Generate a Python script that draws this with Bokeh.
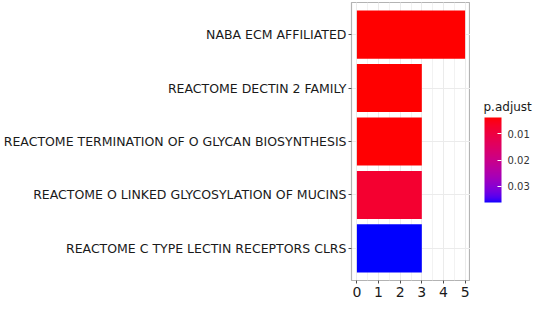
import numpy as np
from bokeh.plotting import figure
from bokeh.layouts import row, column
from bokeh.models import (ColumnDataSource, FactorRange, Range1d, LinearColorMapper,
                          ColorBar, SingleIntervalTicker, FixedTicker, Spacer)
from bokeh.transform import transform
from bokeh.embed import file_html
from bokeh.resources import INLINE

# ---- data ----
terms = ["REACTOME C TYPE LECTIN RECEPTORS CLRS",
         "REACTOME O LINKED GLYCOSYLATION OF MUCINS",
         "REACTOME TERMINATION OF O GLYCAN BIOSYNTHESIS",
         "REACTOME DECTIN 2 FAMILY",
         "NABA ECM AFFILIATED"]
counts = [3, 3, 3, 3, 5]
p_adjust = [0.0362, 0.0078, 0.0040, 0.0039, 0.0038]
cbar_ticks = [0.01, 0.02, 0.03]
x_ticks_interval = 1
legend_title = "p.adjust"

# ---- palette: red -> blue interpolated in CIELAB (like ggplot) ----
def srgb_to_lab(rgb):
    c = np.array(rgb, float) / 255.0
    c = np.where(c > 0.04045, ((c + 0.055) / 1.055) ** 2.4, c / 12.92)
    M = np.array([[0.4124, 0.3576, 0.1805], [0.2126, 0.7152, 0.0722], [0.0193, 0.1192, 0.9505]])
    xyz = M @ c / np.array([0.95047, 1.0, 1.08883])
    f = np.where(xyz > 0.008856, np.cbrt(xyz), 7.787 * xyz + 16 / 116)
    return np.array([116 * f[1] - 16, 500 * (f[0] - f[1]), 200 * (f[1] - f[2])])

def lab_to_hex(lab):
    L, a, b = lab
    fy = (L + 16) / 116
    fx = fy + a / 500
    fz = fy - b / 200
    f = np.array([fx, fy, fz])
    xyz = np.where(f ** 3 > 0.008856, f ** 3, (f - 16 / 116) / 7.787) * np.array([0.95047, 1.0, 1.08883])
    Mi = np.array([[3.2406, -1.5372, -0.4986], [-0.9689, 1.8758, 0.0415], [0.0557, -0.2040, 1.0570]])
    c = Mi @ xyz
    c = np.where(c > 0.0031308, 1.055 * np.clip(c, 0, None) ** (1 / 2.4) - 0.055, 12.92 * c)
    c = np.clip(np.round(c * 255), 0, 255).astype(int)
    return "#%02x%02x%02x" % tuple(c)

lab_red = srgb_to_lab((255, 0, 0))
lab_blue = srgb_to_lab((0, 0, 255))
# index 0 = blue (high p), last = red (low p)
palette = [lab_to_hex(lab_blue + (lab_red - lab_blue) * t) for t in np.linspace(0, 1, 256)]

pmin, pmax = min(p_adjust), max(p_adjust)
mapper = LinearColorMapper(palette=palette, low=pmax, high=pmin)

source = ColumnDataSource(dict(term=terms, count=counts, p=p_adjust))

# ---- main panel ----
p = figure(width=470, height=300, output_backend="svg", toolbar_location=None,
           y_range=FactorRange(*terms, range_padding=0.1, range_padding_units="absolute"),
           x_range=Range1d(-0.25, 5.25),
           min_border_left=342, min_border_right=0, min_border_top=2, min_border_bottom=20)

p.hbar(y="term", left=0, right="count", height=0.9, source=source,
       fill_color=transform("p", mapper), line_color=None)

p.background_fill_color = "white"
p.outline_line_color = "#b3b3b3"
p.outline_line_width = 1.2

p.xaxis.ticker = SingleIntervalTicker(interval=x_ticks_interval, num_minor_ticks=2)
p.xgrid.ticker = p.xaxis.ticker
p.xgrid.grid_line_color = "#ebebeb"
p.xgrid.minor_grid_line_color = "#f2f2f2"
p.ygrid.grid_line_color = "#ebebeb"

for ax in (p.xaxis, p.yaxis):
    ax.axis_line_color = None
    ax.minor_tick_line_color = None
    ax.major_tick_line_color = "#4d4d4d"
    ax.major_tick_in = 0
    ax.major_tick_out = 3
    ax.major_label_text_font = "DejaVu Sans"
    ax.major_label_standoff = 2

p.yaxis.major_label_text_font_size = "12.5px"
p.yaxis.major_label_text_color = "#1a1a1a"
p.xaxis.major_label_text_font_size = "14px"
p.xaxis.major_label_text_color = "#1a1a1a"

# ---- legend (colour bar) panel ----
leg = figure(width=64, height=130, output_backend="svg", toolbar_location=None,
             x_range=Range1d(0, 1), y_range=Range1d(0, 1),
             x_axis_location=None, y_axis_location=None,
             min_border_left=12, min_border_right=0, min_border_top=0, min_border_bottom=0,
             title=legend_title)
leg.outline_line_color = None
leg.grid.visible = False
leg.title.text_font = "DejaVu Sans"
leg.title.text_font_size = "12px"
leg.title.text_font_style = "normal"
leg.title.text_color = "#1a1a1a"
leg.title.align = "left"
leg.title.offset = 1
leg.title.standoff = 3

cb = ColorBar(color_mapper=mapper, ticker=FixedTicker(ticks=cbar_ticks),
              title=None,
              major_label_text_font="DejaVu Sans", major_label_text_font_size="10px",
              major_label_text_color="#333333",
              major_tick_line_color="white", major_tick_in=4, major_tick_out=0,
              bar_line_color=None, width=17, height=85, padding=0, margin=2,
              background_fill_color=None, border_line_color=None,
              location="top_left", label_standoff=6)
leg.add_layout(cb, "center")

layout = row(p, column(Spacer(height=96), leg))

open("out.html", "w").write(file_html(layout, INLINE))
